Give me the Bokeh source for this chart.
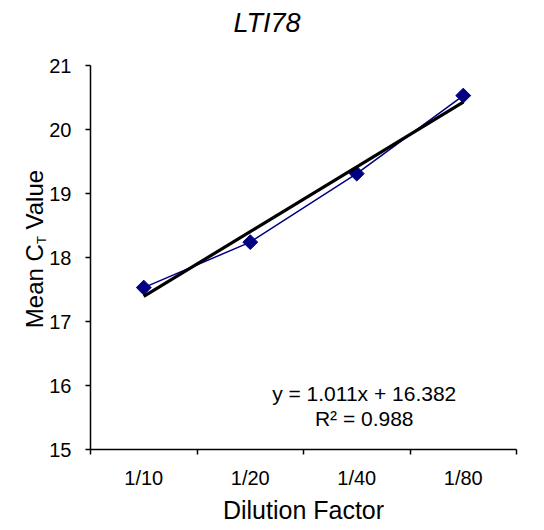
import math
from bokeh.plotting import figure
from bokeh.layouts import row
from bokeh.models import FixedTicker, Range1d, Title, Div
from bokeh.core.properties import value
from bokeh.embed import file_html
from bokeh.resources import INLINE

# ---- data ----
dilutions = ["1/10", "1/20", "1/40", "1/80"]
mean_ct = [17.53, 18.24, 19.31, 20.53]
slope = 1.011
intercept = 16.382
r_squared = 0.988
y_ticks = [15, 16, 17, 18, 19, 20, 21]
title_text = "LTI78"
x_label = "Dilution Factor"
y_label_main, y_label_sub, y_label_end = "Mean C", "T", " Value"

xs = list(range(1, len(dilutions) + 1))
trend_x = [xs[0], xs[-1]]
trend_y = [slope * v + intercept for v in trend_x]
boundaries = [v - 0.5 for v in xs] + [xs[-1] + 0.5]

FONT = "Liberation Sans"
H = 526
LEFT_W = 46

# ---- main chart ----
p = figure(width=536 - LEFT_W, height=H, output_backend="svg", toolbar_location=None,
           x_range=Range1d(0.5, len(dilutions) + 0.5), y_range=Range1d(y_ticks[0], y_ticks[-1]),
           min_border_left=44, min_border_right=20, min_border_top=65, min_border_bottom=77)
p.outline_line_color = None
p.xgrid.visible = False
p.ygrid.visible = False
p.border_fill_alpha = 0

# spacer between frame and title, then the title itself (outermost)
p.add_layout(Title(text=" ", text_font_size="10px", standoff=15), "above")
p.title.text = title_text
p.title.text_font = FONT
p.title.text_font_size = "27px"
p.title.text_font_style = "italic"
p.title.text_color = "black"
p.title.align = "left"
p.title.offset = 143
p.title.standoff = 0
p.title.vertical_align = "bottom"

# x axis: labels at category centres, tick marks at category boundaries
p.xaxis.ticker = FixedTicker(ticks=xs, minor_ticks=boundaries)
p.xaxis.major_label_overrides = {v: lab for v, lab in zip(xs, dilutions)}
p.xaxis.major_tick_out = 0
p.xaxis.major_tick_in = 0
p.xaxis.minor_tick_out = 5
p.xaxis.minor_tick_in = 0
p.xaxis.minor_tick_line_color = "black"
p.xaxis.minor_tick_line_width = 1.5
p.xaxis.major_label_standoff = 12
p.xaxis.major_label_text_font = FONT
p.xaxis.major_label_text_font_size = "20px"
p.xaxis.major_label_text_color = "black"
p.xaxis.axis_line_color = "black"
p.xaxis.axis_line_width = 1.5
p.xaxis.axis_label = x_label
p.xaxis.axis_label_text_font = FONT
p.xaxis.axis_label_text_font_size = "25px"
p.xaxis.axis_label_text_font_style = "normal"
p.xaxis.axis_label_text_color = "black"
p.xaxis.axis_label_standoff = 4

# y axis
p.yaxis.ticker = FixedTicker(ticks=y_ticks, minor_ticks=[])
p.yaxis.major_tick_out = 5
p.yaxis.major_tick_in = 0
p.yaxis.major_tick_line_color = "black"
p.yaxis.major_tick_line_width = 1.5
p.yaxis.major_label_standoff = 14
p.yaxis.major_label_text_font = FONT
p.yaxis.major_label_text_font_size = "20px"
p.yaxis.major_label_text_color = "black"
p.yaxis.axis_line_color = "black"
p.yaxis.axis_line_width = 1.5

# data series
p.line(xs, mean_ct, line_color="#000080", line_width=1.5)
p.scatter(xs, mean_ct, marker="square", size=10.5, angle=math.pi / 4,
          fill_color="#000080", line_color="#000080")
# linear trendline
p.line(trend_x, trend_y, line_color="black", line_width=3.2)

# trendline equation (lower right of the plot area)
p.text(x=[3.07, 3.07], y=[15.87, 15.48],
       text=[f"y = {slope:.3f}x + {intercept:.3f}", f"R\u00b2 = {r_squared:.3f}"],
       text_font=value(FONT), text_font_size=value("21px"), text_color="black",
       text_align="center", text_baseline="alphabetic")

# ---- y axis title with subscript T (HTML text, rotated) ----
ylab_html = (
    f'<div style="position:relative;width:{LEFT_W}px;height:{H}px;">'
    '<div style="position:absolute;left:35px;top:249px;'
    'transform:translate(-50%,-50%) rotate(-90deg);white-space:nowrap;'
    "font-family:'Liberation Sans',Arial,sans-serif;font-size:24px;line-height:1;color:#000;\">"
    f'{y_label_main}<sub style="font-size:13px;line-height:0;vertical-align:-3px;">{y_label_sub}</sub>'
    f'{y_label_end.replace(" ", "&nbsp;", 1)}</div></div>'
)
ydiv = Div(text=ylab_html, width=LEFT_W, height=H, margin=0)

layout = row(ydiv, p)
open("out.html", "w").write(file_html(layout, INLINE))
